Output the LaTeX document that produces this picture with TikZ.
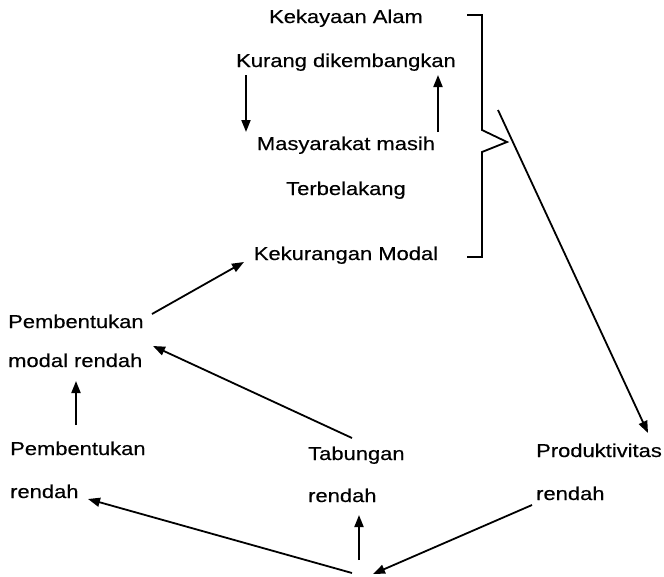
\documentclass[tikz,border=0pt]{standalone}
\usepackage{fontspec}
\setmainfont{Liberation Sans}[FakeStretch=1.18,FakeBold=0.4]
\usetikzlibrary{arrows.meta}
\begin{document}
\begin{tikzpicture}[x=1pt,y=-1pt,
  lbl/.style={inner sep=0pt, font=\fontsize{18.6}{22}\selectfont},
  arr/.style={-{Triangle[length=12pt,width=9pt]}, line width=1.8pt},
  ln/.style={line width=1.8pt}]
\useasboundingbox (0,0) rectangle (664,576);
% top block
\node[lbl,anchor=base] (ka) at (346,23) {Kekayaan Alam};
\node[lbl,anchor=base] (kd) at (346,67) {Kurang dikembangkan};
\node[lbl,anchor=base] (mm) at (346,150) {Masyarakat masih};
\node[lbl,anchor=base] (tb) at (346,195) {Terbelakang};
\node[lbl,anchor=base] (km) at (346,260) {Kekurangan Modal};
% left column
\node[lbl,anchor=base west] (pm1) at (8,328) {Pembentukan};
\node[lbl,anchor=base west] (pm2) at (8,367) {modal rendah};
\node[lbl,anchor=base west] (pr1) at (10,455) {Pembentukan};
\node[lbl,anchor=base west] (pr2) at (10,498) {rendah};
% middle
\node[lbl,anchor=base west] (tr1) at (308,460) {Tabungan};
\node[lbl,anchor=base west] (tr2) at (308,502) {rendah};
% right
\node[lbl,anchor=base west] (pd1) at (536,457) {Produktivitas};
\node[lbl,anchor=base west] (pd2) at (536,500) {rendah};
% connector ends
\coordinate (kdA) at (246,75);  \coordinate (kdB) at (246,132);
\coordinate (mmA) at (438,132); \coordinate (mmB) at (438,75);
\coordinate (pmS) at (152,314); \coordinate (kmE) at (244,262);
\coordinate (trS) at (352,438); \coordinate (pmE) at (153,346);
\coordinate (prS) at (76,425);  \coordinate (pmE2) at (76,381);
\coordinate (brS) at (498,110); \coordinate (pdE) at (648,433);
\coordinate (botL) at (352,573);
\coordinate (botR) at (373,574);
\coordinate (prE) at (88,499);
\coordinate (trE) at (359,515); \coordinate (botU) at (359,560);
\coordinate (pdS) at (532,505);
% bracket
\coordinate (b1) at (467,15); \coordinate (b2) at (482,15);
\coordinate (b3) at (482,130); \coordinate (btip) at (507,142);
\coordinate (b4) at (482,152); \coordinate (b5) at (482,257);
\coordinate (b6) at (467,257);
\draw[ln] (b1) -- (b2) -- (b3) -- (btip) -- (b4) -- (b5) -- (b6);
% arrows
\draw[arr] (kdA) -- (kdB);
\draw[arr] (mmA) -- (mmB);
\draw[arr] (pmS) -- (kmE);
\draw[arr] (trS) -- (pmE);
\draw[arr] (prS) -- (pmE2);
\draw[arr] (brS) -- (pdE);
\draw[arr] (botL) -- (prE);
\draw[arr] (botU) -- (trE);
\draw[arr] (pdS) -- (botR);
\end{tikzpicture}
\end{document}
